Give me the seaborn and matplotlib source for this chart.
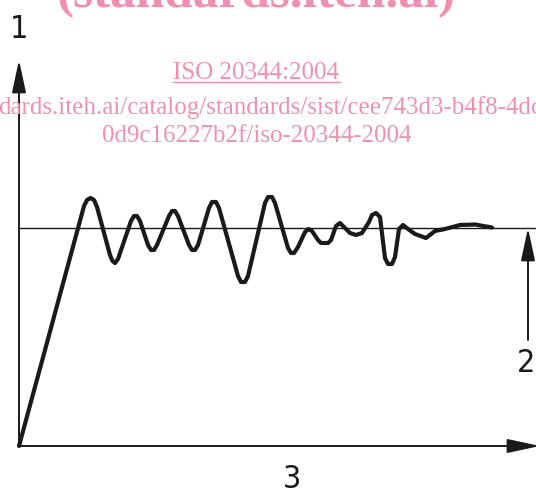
import numpy as np
import pandas as pd
import matplotlib
matplotlib.use('Agg')
import matplotlib.pyplot as plt
import seaborn as sns

# curve: time (px from origin) and response (px above the time axis)
t_vals = [0, 65, 68, 71.5, 75, 78, 91, 93.5, 96, 99, 112, 115, 118, 121,
          129, 132, 135, 138, 150, 153, 156, 159, 170, 173, 176, 179,
          190, 193, 197, 200, 219, 222, 226, 229, 246, 249, 253, 256,
          269, 272, 275, 279, 286, 289.5, 293, 299, 302, 309, 312,
          317, 321, 325, 331, 337, 343, 350, 353, 357, 361,
          366, 369, 373, 376, 380, 384, 389, 396, 407, 416, 426, 441, 456, 473]
r_vals = [0, 240, 246, 248, 246, 239, 191, 185, 183, 187, 225, 230, 230, 225,
          201, 196, 196, 201, 230, 235, 235, 230, 201, 196, 196, 201,
          238, 244, 244, 238, 170, 164, 164, 170, 243, 249, 249, 243,
          198, 193, 193, 199, 214, 217, 215, 206, 203, 203, 206,
          220, 223, 219, 213, 211, 213, 224, 231, 233, 229,
          188, 182, 182, 189, 217, 221, 217, 212, 208, 215, 217, 221, 221.5, 218.5]
target_level = 218          # horizontal reference line
t_end = 517
r_top = 386                 # tip of the response axis arrow
band_t = 509                # position of the "2" arrow
band_bottom = 106

wm_big = "(standards.iteh.ai)"
wm_title = "ISO 20344:2004"
wm_line2 = "dards.iteh.ai/catalog/standards/sist/cee743d3-b4f8-4dcb"
wm_line3 = "0d9c16227b2f/iso-20344-2004"
pink = "#f08fb2"

df = pd.DataFrame({"t": t_vals, "r": r_vals})

fig = plt.figure(figsize=(5.36, 4.96), dpi=100)
ax = fig.add_axes([0, 0, 1, 1])
ax.set_xlim(-19, 517)
ax.set_ylim(-50, 446)
ax.axis('off')

sns.lineplot(data=df, x="t", y="r", sort=False, estimator=None, color="#1a1a1a",
             linewidth=3.0, ax=ax, solid_joinstyle='round', solid_capstyle='round')
ax.plot([1, t_end], [target_level, target_level], color="#1a1a1a", linewidth=1.0)

arrow = dict(arrowstyle="-|>,head_length=20,head_width=4.3", mutation_scale=1,
             color="#1a1a1a", linewidth=1.4, shrinkA=0, shrinkB=0)
ax.annotate("", xy=(0, r_top), xytext=(0, 0), arrowprops=arrow, annotation_clip=False)
ax.annotate("", xy=(t_end + 4, 0), xytext=(0, 0), arrowprops=arrow, annotation_clip=False)
ax.annotate("", xy=(band_t, target_level), xytext=(band_t, band_bottom), arrowprops=arrow,
            annotation_clip=False)

lab = dict(fontsize=23, color="#1a1a1a", family="DejaVu Sans", fontweight="light",
           fontstretch="condensed", ha="center", va="center")
fig.text(19 / 536, 1 - 30 / 496, "1", **lab)
fig.text(526 / 536, 1 - 364 / 496, "2", **lab)
fig.text(292 / 536, 1 - 480 / 496, "3", **lab)

serif = dict(family="Liberation Serif", color=pink, va="baseline")
fig.text(256 / 536, 1 - 7 / 496, wm_big, fontsize=37, fontweight="bold", ha="center", **serif)
fig.text(256 / 536, 1 - 79 / 496, wm_title, fontsize=18, ha="center", **serif)
fig.add_artist(plt.Line2D([173 / 536, 340 / 536], [1 - 82 / 496, 1 - 82 / 496], color=pink, linewidth=1.0))
fig.text(-2 / 536, 1 - 114 / 496, wm_line2, fontsize=18, ha="left", **serif)
fig.text(257 / 536, 1 - 142 / 496, wm_line3, fontsize=18, ha="center", **serif)

fig.savefig("out.png", dpi=100)
plt.close()
